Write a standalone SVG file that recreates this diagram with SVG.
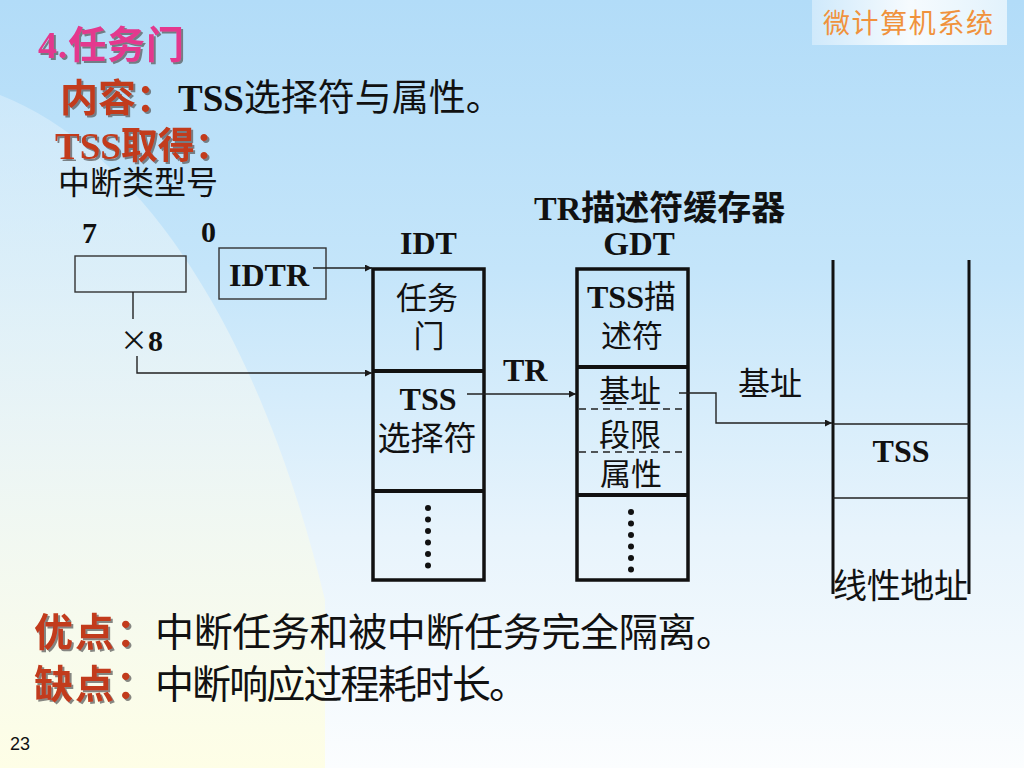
<svg xmlns="http://www.w3.org/2000/svg" width="1024" height="768" viewBox="0 0 1024 768">
<defs>
<linearGradient id="bg" x1="0" y1="0" x2="0" y2="1">
<stop offset="0" stop-color="#b2dcf8"/>
<stop offset="0.35" stop-color="#c4e5fa"/>
<stop offset="0.7" stop-color="#e8f4fc"/>
<stop offset="1" stop-color="#fbfdfe"/>
</linearGradient>
<linearGradient id="leftbg" x1="0" y1="0" x2="0" y2="1">
<stop offset="0" stop-color="#e0f1fc" stop-opacity="0.5"/>
<stop offset="0.5" stop-color="#eef6f4" stop-opacity="0.8"/>
<stop offset="1" stop-color="#fefee6" stop-opacity="1"/>
</linearGradient>
<linearGradient id="tag" x1="0" y1="0" x2="1" y2="0">
<stop offset="0" stop-color="#cfe9fb"/>
<stop offset="0.5" stop-color="#f6fbfe"/>
<stop offset="1" stop-color="#e2f2fc"/>
</linearGradient>
<filter id="sh" x="-10%" y="-10%" width="130%" height="140%">
<feDropShadow dx="2" dy="2" stdDeviation="0.6" flood-color="#555" flood-opacity="0.7"/>
</filter>
<marker id="arr" viewBox="0 0 10 10" refX="10" refY="5" markerWidth="9" markerHeight="7" markerUnits="userSpaceOnUse" orient="auto">
<path d="M0,0 L10,5 L0,10 Z" fill="#1a1a1a"/>
</marker>
<style>
.lat{font-family:"Liberation Serif","Noto Sans CJK SC",serif;font-weight:bold;fill:#111}
.cjk{font-family:"Noto Sans CJK SC",sans-serif;fill:#111}
.red{font-family:"Liberation Serif","Noto Sans CJK SC",serif;font-weight:bold;fill:#c23a1c;filter:url(#sh)}
.tbl{fill:none;stroke:#111;stroke-width:3.5}
.thick{stroke:#111;stroke-width:4}
.thin{fill:none;stroke:#222;stroke-width:1.4}
.dash{stroke:#222;stroke-width:1.3;stroke-dasharray:7,5}
.dot{fill:#111}
</style>
</defs>

<rect width="1024" height="768" fill="url(#bg)"/>
<path d="M0,95 C140,150 260,330 325,600 L325,768 L0,768 Z" fill="url(#leftbg)"/>

<g id="header">
<rect x="812" y="0" width="195" height="45" fill="url(#tag)"/>
<text x="823" y="33" font-family="Noto Sans CJK SC,sans-serif" font-size="27" fill="#f0923c" textLength="170">微计算机系统</text>
</g>

<g id="title">
<text x="38" y="58" font-size="38" font-family="Liberation Serif,Noto Sans CJK SC,serif" font-weight="bold" fill="#e4388e" filter="url(#sh)" textLength="146">4.任务门</text>
<text x="60" y="111" font-size="38" class="red">内容：</text>
<text x="178" y="111" font-size="37"><tspan class="lat">TSS</tspan><tspan class="cjk" font-weight="normal">选择符与属性。</tspan></text>
<text x="55" y="159" font-size="37" class="red">TSS取得：</text>
<text x="58" y="194" font-size="32" class="cjk">中断类型号</text>
</g>

<g id="vector">
<text x="82" y="243" font-size="30" class="lat">7</text>
<text x="201" y="242" font-size="30" class="lat">0</text>
<rect x="75" y="256" width="111" height="36" fill="none" stroke="#333" stroke-width="1.4"/>
<text x="120" y="351" font-size="30"><tspan class="cjk" font-size="28">×</tspan><tspan class="lat">8</tspan></text>
</g>

<g id="idtr">
<rect x="219" y="248" width="107" height="51" fill="none" stroke="#333" stroke-width="1.4"/>
<text x="229" y="286" font-size="32" class="lat">IDTR</text>
</g>

<g id="idt">
<text x="400" y="254" font-size="32" class="lat">IDT</text>
<rect x="373" y="269" width="111" height="311" class="tbl"/>
<line x1="373" y1="371" x2="484" y2="371" class="thick"/>
<line x1="373" y1="491" x2="484" y2="491" class="thick"/>
<text x="427" y="309" font-size="31" class="cjk" text-anchor="middle">任务</text>
<text x="429" y="347" font-size="31" class="cjk" text-anchor="middle">门</text>
<text x="428" y="410" font-size="32" class="lat" text-anchor="middle">TSS</text>
<text x="427" y="450" font-size="33" class="cjk" text-anchor="middle">选择符</text>
<circle cx="428" cy="508" r="3" class="dot"/>
<circle cx="428" cy="519.5" r="3" class="dot"/>
<circle cx="428" cy="531" r="3" class="dot"/>
<circle cx="428" cy="542.5" r="3" class="dot"/>
<circle cx="428" cy="554" r="3" class="dot"/>
<circle cx="428" cy="565.5" r="3" class="dot"/>
</g>

<g id="gdt">
<text x="534" y="220" font-size="34" class="lat">TR描述符缓存器</text>
<text x="639" y="255" font-size="33" class="lat" text-anchor="middle">GDT</text>
<rect x="577" y="269" width="111" height="311" class="tbl"/>
<line x1="577" y1="367" x2="688" y2="367" class="thick"/>
<line x1="579" y1="409" x2="686" y2="409" class="dash"/>
<line x1="579" y1="452" x2="686" y2="452" class="dash"/>
<line x1="577" y1="495" x2="688" y2="495" class="thick"/>
<text x="587" y="308" font-size="32"><tspan class="lat">TSS</tspan><tspan class="cjk">描</tspan></text>
<text x="632" y="347" font-size="31" class="cjk" text-anchor="middle">述符</text>
<text x="630" y="402" font-size="31" class="cjk" text-anchor="middle">基址</text>
<text x="630" y="446" font-size="31" class="cjk" text-anchor="middle">段限</text>
<text x="631" y="485" font-size="31" class="cjk" text-anchor="middle">属性</text>
<circle cx="631" cy="512" r="3" class="dot"/>
<circle cx="631" cy="523.5" r="3" class="dot"/>
<circle cx="631" cy="535" r="3" class="dot"/>
<circle cx="631" cy="546.5" r="3" class="dot"/>
<circle cx="631" cy="558" r="3" class="dot"/>
<circle cx="631" cy="569.5" r="3" class="dot"/>
</g>

<g id="linear">
<line x1="833" y1="260" x2="833" y2="594" stroke="#111" stroke-width="3"/>
<line x1="969" y1="260" x2="969" y2="594" stroke="#111" stroke-width="3"/>
<line x1="833" y1="424" x2="969" y2="424" stroke="#222" stroke-width="1.4"/>
<line x1="833" y1="498" x2="969" y2="498" stroke="#222" stroke-width="1.4"/>
<text x="901" y="462" font-size="32" class="lat" text-anchor="middle">TSS</text>
<text x="833" y="598" font-size="34" class="cjk" textLength="135">线性地址</text>
</g>

<g id="connectors">
<line x1="313" y1="268" x2="372" y2="268" class="thin" marker-end="url(#arr)"/>
<line x1="133" y1="292" x2="133" y2="319" class="thin"/>
<polyline points="137,356 137,373 372,373" class="thin" marker-end="url(#arr)"/>
<line x1="467" y1="394" x2="576" y2="394" class="thin" marker-end="url(#arr)"/>
<polyline points="679,393 716,393 716,423 832,423" class="thin" marker-end="url(#arr)"/>
<text x="503" y="381" font-size="32" class="lat">TR</text>
<text x="738" y="395" font-size="32" class="cjk">基址</text>
</g>

<g id="notes">
<text x="34" y="646" font-size="39" class="red" textLength="121">优点：</text>
<text x="155" y="646" font-size="39" class="cjk" textLength="580">中断任务和被中断任务完全隔离。</text>
<text x="34" y="698" font-size="39" class="red" textLength="121">缺点：</text>
<text x="155" y="698" font-size="39" class="cjk" textLength="373">中断响应过程耗时长。</text>
<text x="10" y="750" font-size="18" font-family="Liberation Sans,Arial,sans-serif" fill="#111">23</text>
</g>
</svg>
